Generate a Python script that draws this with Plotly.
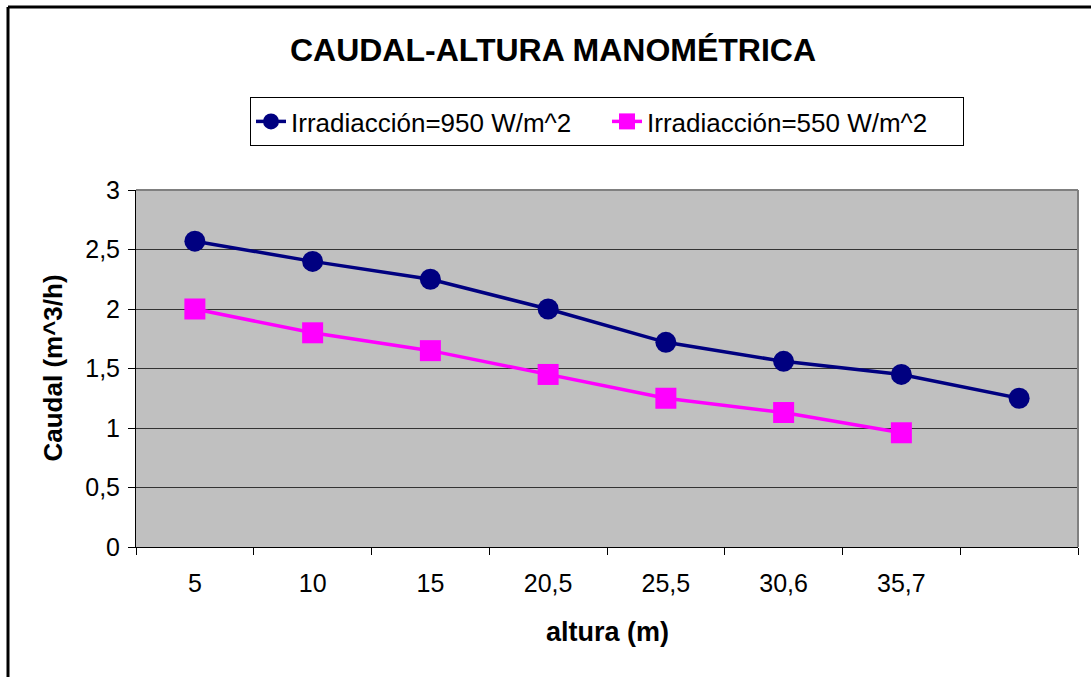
import plotly.graph_objects as go

categories = ["5", "10", "15", "20,5", "25,5", "30,6", "35,7", " "]
caudal_950 = [2.57, 2.40, 2.25, 2.00, 1.72, 1.56, 1.45, 1.25]
caudal_550 = [2.00, 1.80, 1.65, 1.45, 1.25, 1.13, 0.96]
yticks = [0, 0.5, 1, 1.5, 2, 2.5, 3]

FONT = "Liberation Sans, Arial, sans-serif"

fig = go.Figure()
fig.add_trace(go.Scatter(
    x=categories, y=caudal_950, mode="lines+markers",
    name="Irradiacción=950 W/m^2",
    line=dict(color="#000080", width=3.5),
    marker=dict(symbol="circle", size=21, color="#000080"),
))
fig.add_trace(go.Scatter(
    x=categories[:len(caudal_550)], y=caudal_550, mode="lines+markers",
    name="Irradiacción=550 W/m^2",
    line=dict(color="#FF00FF", width=3.5),
    marker=dict(symbol="square", size=21, color="#FF00FF"),
))

L, R, T, B = 136, 13, 190, 130
W, H = 1091, 677
pw, ph = W - L - R, H - T - B

def px2paper_x(px):
    return (px - L) / pw

def px2paper_y(py):
    return (H - B - py) / ph

fig.update_layout(
    width=W, height=H,
    margin=dict(l=L, r=R, t=T, b=B),
    paper_bgcolor="white",
    plot_bgcolor="#C0C0C0",
    separators=",.",
    font=dict(family=FONT, size=25, color="black"),
    showlegend=True,
    title=dict(
        text="<b>CAUDAL-ALTURA MANOMÉTRICA</b>",
        font=dict(family=FONT, size=32, color="black"),
        x=553 / W, xref="container", xanchor="center",
        y=1 - 50 / H, yref="container", yanchor="middle",
    ),
    legend=dict(
        orientation="h",
        x=px2paper_x(250), xanchor="left",
        y=px2paper_y(97), yanchor="top",
        bgcolor="white", bordercolor="black", borderwidth=1,
        entrywidth=311, entrywidthmode="pixels",
        font=dict(family=FONT, size=26, color="black"),
    ),
    xaxis=dict(
        type="category",
        categoryorder="array", categoryarray=categories,
        tickson="boundaries",
        ticks="outside", ticklen=7, tickcolor="black", tickwidth=1,
        ticklabelstandoff=14,
        showline=True, linecolor="black", linewidth=1,
        showgrid=False, zeroline=False,
        tickfont=dict(family=FONT, size=25, color="black"),
        range=[-0.5, 7.5],
    ),
    yaxis=dict(
        range=[0, 3], tickvals=yticks,
        ticks="outside", ticklen=7, tickcolor="black", tickwidth=1,
        ticklabelstandoff=3,
        showline=True, linecolor="black", linewidth=1,
        showgrid=True, gridcolor="#333333", gridwidth=1,
        zeroline=False,
        tickfont=dict(family=FONT, size=25, color="black"),
    ),
    annotations=[
        dict(text="<b>altura (m)</b>", xref="paper", yref="paper",
             x=0.5, y=px2paper_y(632), xanchor="center", yanchor="middle",
             showarrow=False, font=dict(family=FONT, size=27, color="black")),
        dict(text="<b>Caudal (m^3/h)</b>", xref="paper", yref="paper",
             x=px2paper_x(52), y=0.5, xanchor="center", yanchor="middle",
             textangle=-90, showarrow=False,
             font=dict(family=FONT, size=26, color="black")),
    ],
    shapes=[
        # outer chart frame (cut off at right and bottom)
        dict(type="line", xref="paper", yref="paper",
             x0=px2paper_x(8), x1=px2paper_x(1100), y0=px2paper_y(7), y1=px2paper_y(7),
             line=dict(color="black", width=3)),
        dict(type="line", xref="paper", yref="paper",
             x0=px2paper_x(8), x1=px2paper_x(8), y0=px2paper_y(7), y1=px2paper_y(700),
             line=dict(color="black", width=3)),
        # plot area top and right edges (gray)
        dict(type="line", xref="paper", yref="paper", x0=0, x1=1, y0=1, y1=1,
             line=dict(color="#808080", width=2)),
        dict(type="line", xref="paper", yref="paper", x0=1, x1=1, y0=0, y1=1,
             line=dict(color="#808080", width=2)),
    ],
)

fig.write_html("out.html")
